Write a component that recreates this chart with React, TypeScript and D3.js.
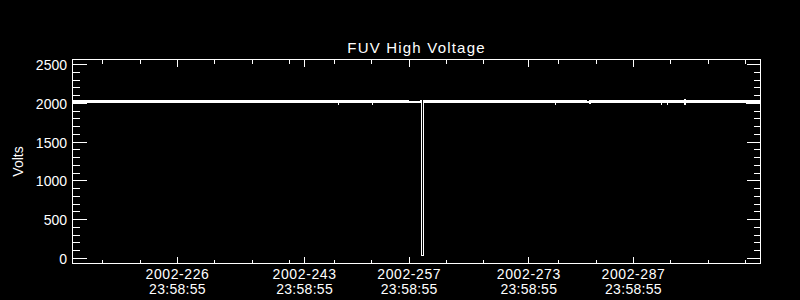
import React from 'react';
import * as d3 from 'd3';

const TITLE = 'FUV High Voltage';
const Y_LABEL = 'Volts';
const YEAR = 2002;
const TICK_SECONDS = 23 * 3600 + 58 * 60 + 55; // 23:58:55
const majorTickDays = [226, 243, 257, 273, 287];
const minorTickDays = [216, 221, 231, 236, 241, 247, 252, 262, 267, 277, 282, 292, 297, 302];
const yMajorTicks = [0, 500, 1000, 1500, 2000, 2500];
const yMinorTicks = d3.range(0, 2501, 100);
const dayDomain = [212.953, 304.989];
const voltDomain = [-64.4, 2564.4];

// fractional day-of-year samples with max/min voltage envelope
const sampleDays = [
  212.953, 214.826, 214.96, 248.469, 248.536, 248.603, 253.018, 253.085, 253.152,
  257.9, 258.034, 259.372, 259.506, 259.64, 259.64, 259.907, 259.907,
  277.498, 277.565, 277.632, 281.645, 281.779, 282.046, 282.18, 282.448,
  291.678, 291.745, 291.812, 292.481, 292.548, 292.615,
  294.755, 294.889, 295.023, 302.982, 303.116, 304.989,
];
const voltsMax = [
  2036, 2036, 2036, 2036, 2036, 2036, 2036, 2036, 2036,
  2036, 2023, 2023, 2036, 2036, 39, 39, 2036,
  2036, 2036, 2036, 2036, 2023, 2023, 2036, 2036,
  2036, 2036, 2036, 2036, 2036, 2036,
  2036, 2049, 2036, 2036, 2036, 2036,
];
const voltsMin = [
  1997, 1997, 2010, 2010, 1997, 2010, 2010, 1997, 2010,
  2010, 2010, 2010, 2010, 2010, 39, 39, 2010,
  2010, 1997, 2010, 2010, 2010, 2010, 1997, 2010,
  2010, 1997, 2010, 2010, 1997, 2010,
  2010, 1984, 2010, 2010, 1997, 1997,
];

const W = 800;
const H = 300;
const PL = 72.5;
const PR = 760.5;
const PT = 59.5;
const PB = 263.5;
const FONT = '"Liberation Sans", Arial, sans-serif';

function pad(n: number) {
  return n < 10 ? '0' + n : '' + n;
}
function timeLabel(sec: number) {
  const h = Math.floor(sec / 3600);
  const m = Math.floor((sec % 3600) / 60);
  const s = sec % 60;
  return `${pad(h)}:${pad(m)}:${pad(s)}`;
}

export default function App() {
  const x = d3.scaleLinear().domain(dayDomain).range([PL, PR]);
  const y = d3.scaleLinear().domain(voltDomain).range([PB, PT]);
  const frac = TICK_SECONDS / 86400;

  const area = d3
    .area<number>()
    .x((i) => x(sampleDays[i]))
    .y0((i) => y(voltsMin[i]))
    .y1((i) => y(voltsMax[i]));
  const idx = sampleDays.map((_, i) => i);

  const yMinor = yMinorTicks.filter((v) => !yMajorTicks.includes(v));

  return (
    <div style={{ position: 'absolute', left: 0, top: 0, width: W, height: H }}>
      <svg width={W} height={H} style={{ display: 'block', background: '#000' }}>
        <rect x={0} y={0} width={W} height={H} fill="#000" />
        <g stroke="#fff" strokeWidth={1} shapeRendering="crispEdges">
          {/* frame */}
          <rect x={PL} y={PT} width={PR - PL} height={PB - PT} fill="none" />
          {/* y ticks */}
          {yMajorTicks.map((v) => (
            <g key={'ym' + v}>
              <line x1={PL} x2={PL + 14} y1={y(v)} y2={y(v)} />
              <line x1={PR} x2={PR - 14} y1={y(v)} y2={y(v)} />
            </g>
          ))}
          {yMinor.map((v) => (
            <g key={'yn' + v}>
              <line x1={PL} x2={PL + 7} y1={y(v)} y2={y(v)} />
              <line x1={PR} x2={PR - 7} y1={y(v)} y2={y(v)} />
            </g>
          ))}
          {/* x ticks */}
          {majorTickDays.map((d) => {
            const xx = x(d + frac);
            return (
              <g key={'xm' + d}>
                <line x1={xx} x2={xx} y1={PB} y2={PB - 7} />
                <line x1={xx} x2={xx} y1={PT} y2={PT + 7} />
              </g>
            );
          })}
          {minorTickDays.map((d) => {
            const xx = x(d + frac);
            return (
              <g key={'xn' + d}>
                <line x1={xx} x2={xx} y1={PB} y2={PB - 4} />
                <line x1={xx} x2={xx} y1={PT} y2={PT + 4} />
              </g>
            );
          })}
        </g>
        {/* data */}
        <path
          d={area(idx) || ''}
          fill="#fff"
          stroke="#fff"
          strokeWidth={1}
          shapeRendering="crispEdges"
        />
        {/* texts */}
        <g fill="#fff" fontFamily={FONT}>
          <text x={(PL + PR) / 2} y={53} fontSize={15} textAnchor="middle" letterSpacing={1.2}>
            {TITLE}
          </text>
          {yMajorTicks.map((v) => (
            <text key={'yl' + v} x={67} y={y(v) + 5.5} fontSize={14} textAnchor="end">
              {v}
            </text>
          ))}
          {majorTickDays.map((d) => {
            const xx = x(d + frac);
            return (
              <g key={'xl' + d}>
                <text x={xx} y={278.5} fontSize={14} textAnchor="middle" letterSpacing={0.6}>
                  {`${YEAR}-${d}`}
                </text>
                <text x={xx} y={293.5} fontSize={14} textAnchor="middle" letterSpacing={0.3}>
                  {timeLabel(TICK_SECONDS)}
                </text>
              </g>
            );
          })}
          <text
            transform={`translate(23,${(PT + PB) / 2}) rotate(-90)`}
            fontSize={14}
            textAnchor="middle"
          >
            {Y_LABEL}
          </text>
        </g>
      </svg>
    </div>
  );
}
